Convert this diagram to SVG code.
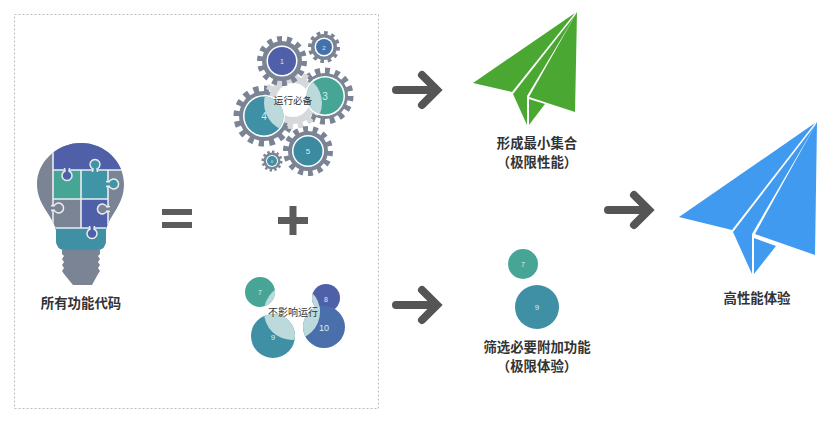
<svg xmlns="http://www.w3.org/2000/svg" width="839" height="424" viewBox="0 0 839 424">
<style>
text{font-family:"Noto Sans CJK SC","Liberation Sans",sans-serif;text-anchor:middle;fill:#333}
.lb{font-size:13.4px;font-weight:700}
.sm{font-size:9.6px;fill:#333}
.n{fill:#dfecf0;font-family:"Liberation Sans",sans-serif}
.gr{fill:#7b8494}.pu{fill:#4f5fa8}.te{fill:#3f8fa5}.gn{fill:#46a595}.bl{fill:#4a70ab}.tq{fill:#3f94a5}
.t{fill:none;stroke:#7b8494;stroke-dasharray:1 1}
.w{fill:#fff}
.lt{fill:#bcd9dc}
.ln{stroke:#e9eef1;stroke-width:1.6;fill:none}
.ar{fill:none;stroke:#555;stroke-width:8;stroke-linecap:round;stroke-linejoin:miter}
.sy{fill:#5c5c5c}
</style>
<defs>
<clipPath id="bc"><path d="M81 143C105 143 124 162 124 184C124 205 110 214 106 230L106 240Q106 250 96 250L66 250Q56 250 56 240L56 230C52 214 37 205 37 184C37 162 57 143 81 143Z"/></clipPath>
<clipPath id="c3"><circle cx="325" cy="96" r="18.5"/></clipPath>
<clipPath id="c4"><circle cx="264" cy="116" r="19.5"/></clipPath>
<clipPath id="c7"><circle cx="260" cy="292" r="15"/></clipPath>
<clipPath id="c9"><circle cx="273" cy="336" r="22"/></clipPath>
<clipPath id="c8"><circle cx="326" cy="298" r="14"/></clipPath>
<clipPath id="c10"><circle cx="324" cy="327" r="21"/></clipPath>
<path id="key" stroke="#e9eef1" stroke-width="1.500" d="M-2.500 1L-2 -2A5 5 0 1 1 2 -2L2.500 1"/>
</defs>
<rect x="14.500" y="14.500" width="364" height="394" fill="none" stroke="#bdbdbd" stroke-dasharray="2 2"/>

<g id="bulb">
<g clip-path="url(#bc)">
<rect x="30" y="140" width="100" height="115" class="gr"/>
<rect x="53" y="140" width="75" height="30" class="pu"/>
<rect x="53" y="170" width="28" height="29" class="gn"/>
<rect x="81" y="170" width="27" height="29" class="tq"/>
<rect x="81" y="199" width="27" height="29" class="pu"/>
<rect x="53" y="228" width="55" height="25" class="te"/>
<path class="ln" d="M53 150V228M53 170H125M53 199H108M81 170V228M108 170V228M50 228H110"/>
</g>
<use href="#key" class="tq" transform="translate(95 171)"/>
<use href="#key" class="pu" transform="translate(67 169) rotate(180)"/>
<use href="#key" class="tq" transform="translate(107 184) rotate(90)"/>
<use href="#key" class="gr" transform="translate(52 208) rotate(90)"/>
<use href="#key" class="gr" transform="translate(109 209) rotate(-90)"/>
<use href="#key" class="pu" transform="translate(92 227) rotate(180)"/>
<path class="gr" d="M62 250H100V254L98 256L100 259L98 262L100 265L98 268L100 271L98 274L92 285H73L64 274L62 271L64 268L62 265L64 262L62 259L64 256L62 254Z"/>
<text class="lb" x="81" y="308">所有功能代码</text>
</g>

<g id="equals"><rect class="sy" x="162" y="209" width="30" height="6"/><rect class="sy" x="162" y="222" width="30" height="6"/></g>

<g id="gears">
<circle class="t" cx="325" cy="96" r="25" stroke-width="7" pathLength="32"/><circle class="gr" cx="325" cy="96" r="23"/>
<circle class="t" cx="264" cy="116" r="27" stroke-width="7" pathLength="32"/><circle class="gr" cx="264" cy="116" r="25"/>

<circle cx="293" cy="100" r="26" fill="none" stroke="#d6d9dc" stroke-width="6" stroke-dasharray="1 1" pathLength="32"/>
<circle cx="293" cy="100" r="24" fill="#d6d9dc"/>
<circle cx="293" cy="100" r="17" fill="#fff"/>

<circle class="t" cx="282" cy="61" r="22" stroke-width="6" pathLength="28"/><circle class="gr" cx="282" cy="61" r="20"/><circle class="w" cx="282" cy="61" r="15.500"/><circle class="pu" cx="282" cy="61" r="14"/>
<text class="n" x="282" y="64" font-size="7">1</text>

<circle class="t" cx="324" cy="47" r="14" stroke-width="4" pathLength="24"/><circle class="gr" cx="324" cy="47" r="13"/><circle class="w" cx="324" cy="47" r="9.500"/><circle fill="#4372aa" cx="324" cy="47" r="8"/>
<text class="n" x="324" y="50" font-size="6">2</text>

<circle class="w" cx="325" cy="96" r="20"/><circle class="gn" cx="325" cy="96" r="18.500"/>
<circle class="lt" cx="293" cy="103" r="29" clip-path="url(#c3)"/>
<text class="n" x="325" y="100" font-size="10">3</text>

<circle class="w" cx="264" cy="116" r="21"/><circle class="te" cx="264" cy="116" r="19.500"/>
<circle class="lt" cx="293" cy="103" r="29" clip-path="url(#c4)"/>
<text class="n" x="264" y="120" font-size="10">4</text>

<circle class="t" cx="308" cy="151" r="22" stroke-width="6" pathLength="28"/><circle class="gr" cx="308" cy="151" r="20"/><circle class="w" cx="308" cy="151" r="16"/><circle fill="#3b8aa0" cx="308" cy="151" r="14.500"/>
<text class="n" x="308" y="154" font-size="8">5</text>

<circle class="t" cx="272" cy="161" r="9" stroke-width="3" pathLength="24"/><circle class="gr" cx="272" cy="161" r="8.500"/><circle class="w" cx="272" cy="161" r="6"/><circle class="te" cx="272" cy="161" r="5"/>
<text class="n" x="272" y="163" font-size="4">6</text>
<text class="sm" x="293" y="104">运行必备</text>
</g>

<g id="plus"><rect class="sy" x="278" y="217" width="30" height="7"/><rect class="sy" x="289.500" y="206" width="7" height="29"/></g>

<g id="optional">
<circle class="gn" cx="260" cy="292" r="15"/><circle class="te" cx="273" cy="336" r="22"/><circle class="pu" cx="326" cy="298" r="14"/><circle class="bl" cx="324" cy="327" r="21"/>
<circle class="lt" cx="292" cy="312" r="28" clip-path="url(#c7)"/>
<circle class="lt" cx="292" cy="312" r="28" clip-path="url(#c9)"/>
<circle class="lt" cx="292" cy="312" r="28" clip-path="url(#c8)"/>
<circle class="lt" cx="292" cy="312" r="28" clip-path="url(#c10)"/>
<text class="n" x="260" y="295" font-size="7">7</text><text class="n" x="273" y="340" font-size="8">9</text><text class="n" x="326" y="302" font-size="7">8</text><text class="n" x="324" y="331" font-size="9">10</text>
<text class="sm" x="293" y="316" style="font-size:10px">不影响运行</text>
</g>

<g id="connectors">
<path class="ar" d="M396 90H436M422 75L437 90L422 105"/>
<path class="ar" d="M396 305H436M422 290L437 305L422 320"/>
<path class="ar" d="M608 210H648M634 195L649 210L634 225"/>
</g>

<g id="green-plane" fill="#4aa832">
<path d="M575 13L473 83L512 92Z"/>
<path d="M576 14L513 94L527 125V96Z"/>
<path d="M577 12L529 97L575 112Z"/>
<path d="M529 99L545 104L529 125Z"/>
<text class="lb" x="537" y="148">形成最小集合</text>
<text class="lb" x="537" y="167">（极限性能）</text>
</g>

<g id="selected">
<circle class="gn" cx="523" cy="264" r="15"/><circle class="te" cx="537" cy="307" r="22"/>
<text class="n" x="523" y="267" font-size="7">7</text><text class="n" x="537" y="310" font-size="8">9</text>
<text class="lb" x="537" y="352">筛选必要附加功能</text>
<text class="lb" x="537" y="371">（极限体验）</text>
</g>

<g id="blue-plane" fill="#409bf0">
<path d="M815 123L679 217L732 230Z"/>
<path d="M816 124L733 232L752 274V234Z"/>
<path d="M817 122L755 234L815 255Z"/>
<path d="M754 238L776 246L754 274Z"/>
<text class="lb" x="757" y="303">高性能体验</text>
</g>
</svg>
